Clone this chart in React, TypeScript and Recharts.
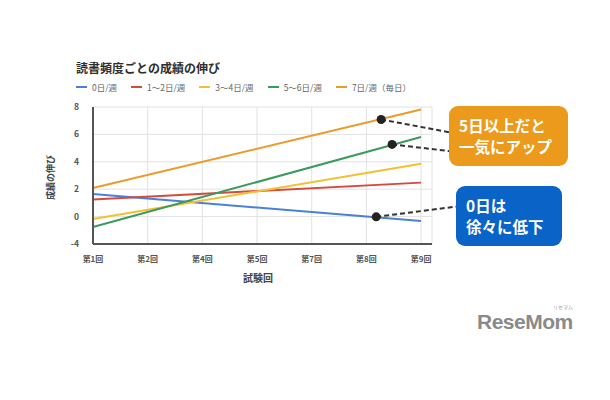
import React from "react";
import {
  LineChart,
  Line,
  XAxis,
  YAxis,
  CartesianGrid,
  ReferenceDot,
  ReferenceLine,
} from "recharts";

const FONT = "'Noto Sans CJK JP', 'Noto Sans', sans-serif";

// x categories (evenly spaced in the source chart)
const rounds = ["第1回", "第2回", "第4回", "第5回", "第7回", "第8回", "第9回"];
const yTicks = [-2, 0, 2, 4, 6, 8];
const yTickLabels = ["-4", "0", "2", "4", "6", "8"];

const seriesNames = ["0日/週", "1〜2日/週", "3〜4日/週", "5〜6日/週", "7日/週（毎日）"];
const seriesColors = ["#4a80d6", "#d8493d", "#f2c033", "#3b9a5c", "#ec9b2b"];
// straight trend lines: value at first and last round
const startValues = [1.65, 1.25, -0.17, -0.76, 2.09];
const endValues = [-0.32, 2.48, 3.85, 5.81, 7.82];

// callout markers: point on the line and where the dashed leader ends
const markerX = [5.27, 5.47, 5.18];
const markerY = [7.09, 5.27, -0.02];
const leaderEndX = [6.52, 6.52, 6.66];
const leaderEndY = [6.15, 4.78, 0.74];

const lineData = [
  { x: 0, ...Object.fromEntries(seriesNames.map((n, i) => [n, startValues[i]])) },
  { x: rounds.length - 1, ...Object.fromEntries(seriesNames.map((n, i) => [n, endValues[i]])) },
];

const Legend = () => (
  <div
    style={{
      position: "absolute",
      left: 76,
      top: 81,
      display: "flex",
      fontSize: 8.5,
      color: "#666",
      fontFamily: FONT,
    }}
  >
    {seriesNames.map((n, i) => (
      <div key={n} style={{ display: "flex", alignItems: "center", marginRight: 14 }}>
        <span
          style={{
            display: "inline-block",
            width: 11,
            height: 2,
            background: seriesColors[i],
            marginRight: 5,
          }}
        />
        {n}
      </div>
    ))}
  </div>
);

const boxStyle: React.CSSProperties = {
  position: "absolute",
  height: 60,
  borderRadius: 9,
  color: "#fff",
  fontSize: 15.5,
  fontWeight: 700,
  lineHeight: "21px",
  display: "flex",
  flexDirection: "column",
  justifyContent: "center",
  boxSizing: "border-box",
};

const App = () => {
  return (
    <div
      style={{
        position: "absolute",
        left: 0,
        top: 0,
        width: 610,
        height: 400,
        background: "#fff",
        fontFamily: FONT,
      }}
    >
      <div
        style={{
          position: "absolute",
          left: 76,
          top: 59,
          fontSize: 12,
          fontWeight: 700,
          color: "#2e2e2e",
        }}
      >
        読書頻度ごとの成績の伸び
      </div>
      <Legend />

      <LineChart
        width={610}
        height={400}
        data={lineData}
        margin={{ top: 107, right: 178, bottom: 126, left: 40 }}
        style={{ position: "absolute", left: 0, top: 0 }}
      >
        <CartesianGrid stroke="#e2e2e2" strokeWidth={1} />
        <XAxis
          dataKey="x"
          type="number"
          domain={[0, 6.2]}
          ticks={rounds.map((_, i) => i)}
          tickFormatter={(v: number) => rounds[v] ?? ""}
          axisLine={{ stroke: "#555", strokeWidth: 2 }}
          tickLine={false}
          height={30}
          tick={{ fontSize: 8, fill: "#555", fontWeight: 700, fontFamily: FONT }}
          tickMargin={6}
        />
        <YAxis
          type="number"
          domain={[-2, 8]}
          ticks={yTicks}
          tickFormatter={(v: number) => yTickLabels[yTicks.indexOf(v)] ?? ""}
          axisLine={{ stroke: "#555", strokeWidth: 2 }}
          tickLine={false}
          width={53}
          tick={{ fontSize: 8.5, fill: "#555", fontWeight: 700, fontFamily: FONT }}
          tickMargin={8}
        />
        {seriesNames.map((n, i) => (
          <Line
            key={n}
            dataKey={n}
            stroke={seriesColors[i]}
            strokeWidth={2}
            dot={false}
            isAnimationActive={false}
          />
        ))}
        {markerX.map((mx, i) => (
          <ReferenceLine
            key={"l" + i}
            segment={[
              { x: mx, y: markerY[i] },
              { x: leaderEndX[i], y: leaderEndY[i] },
            ]}
            stroke="#333"
            strokeWidth={2}
            strokeDasharray="5 3"
            ifOverflow="visible"
          />
        ))}
        {markerX.map((mx, i) => (
          <ReferenceDot
            key={"d" + i}
            x={mx}
            y={markerY[i]}
            r={4.5}
            fill="#222"
            stroke="none"
          />
        ))}
      </LineChart>

      <div
        style={{
          position: "absolute",
          left: 50 - 30,
          top: 178 - 7,
          width: 60,
          textAlign: "center",
          transform: "rotate(-90deg)",
          fontSize: 9,
          fontWeight: 700,
          color: "#444",
        }}
      >
        成績の伸び
      </div>
      <div
        style={{
          position: "absolute",
          left: 228,
          top: 270,
          width: 60,
          textAlign: "center",
          fontSize: 10,
          fontWeight: 700,
          color: "#444",
        }}
      >
        試験回
      </div>

      <div
        style={{
          ...boxStyle,
          left: 449,
          top: 106,
          width: 119,
          background: "#ec9a1c",
          paddingLeft: 10,
        }}
      >
        <div>5日以上だと</div>
        <div>一気にアップ</div>
      </div>
      <div
        style={{
          ...boxStyle,
          left: 456,
          top: 186,
          width: 106,
          background: "#0a63c6",
          paddingLeft: 10,
        }}
      >
        <div>0日は</div>
        <div>徐々に低下</div>
      </div>

      <div
        style={{
          position: "absolute",
          left: 477,
          top: 310,
          fontSize: 21,
          lineHeight: "24px",
          fontWeight: 700,
          color: "#8a8a8a",
          fontFamily: "'Liberation Sans', Arial, sans-serif",
          letterSpacing: -0.5,
        }}
      >
        ReseMom
      </div>
      <div
        style={{
          position: "absolute",
          left: 553,
          top: 304,
          fontSize: 5,
          lineHeight: "6px",
          color: "#999",
        }}
      >
        リセマム
      </div>
    </div>
  );
};

export default App;
